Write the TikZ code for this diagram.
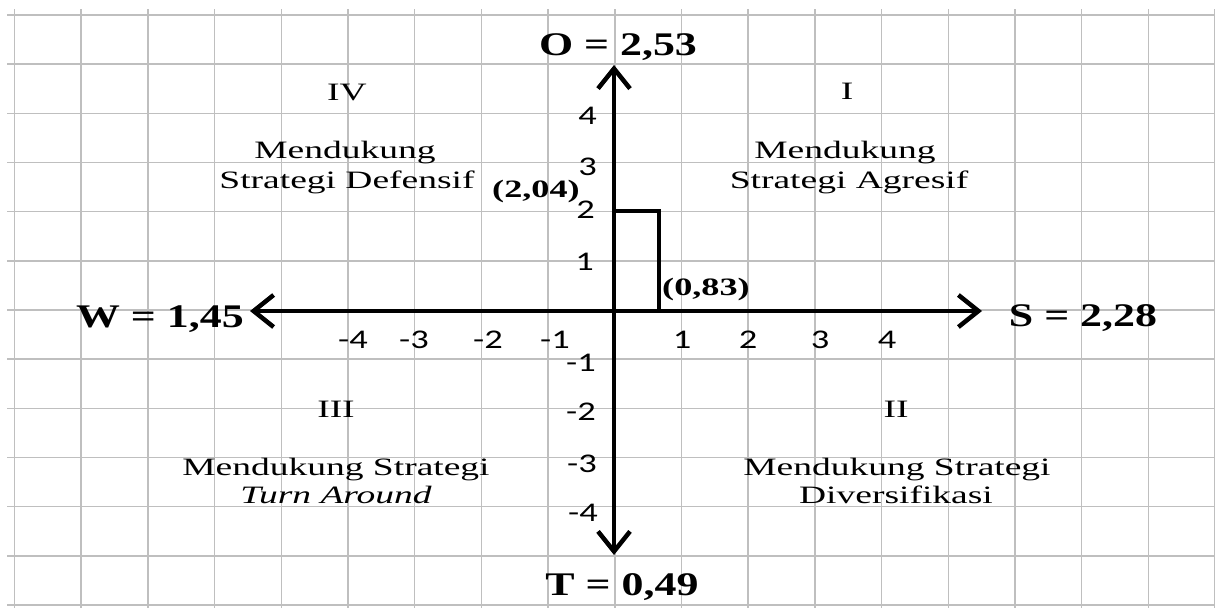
\documentclass[tikz,border=0pt]{standalone}
\usepackage{fontspec}
\usetikzlibrary{arrows.meta}
\newfontfamily\quadfont[FakeStretch=1.5]{Liberation Serif}
\newfontfamily\labfont[FakeStretch=1.33]{Liberation Serif}
\newfontfamily\ptfont[FakeStretch=1.45]{Liberation Serif}
\newfontfamily\tickfont[FakeStretch=1.35]{Carlito}
\begin{document}
\begin{tikzpicture}[x=1pt,y=-1pt,
  gridline/.style={draw=black!25,line width=1.5pt},
  axisline/.style={draw=black,line width=4.5pt,{Straight Barb[length=20pt,width=32pt]}-{Straight Barb[length=20pt,width=32pt]}},
  rectline/.style={draw=black,line width=3.5pt},
  quad/.style={inner sep=0pt,font=\quadfont\fontsize{25}{30}\selectfont,text=black,align=center},
  axlab/.style={inner sep=0pt,font=\labfont\bfseries\fontsize{33}{36}\selectfont,text=black},
  ptlab/.style={inner sep=0pt,font=\ptfont\bfseries\fontsize{25}{30}\selectfont,text=black},
  tick/.style={inner sep=0pt,font=\tickfont\fontsize{27}{30}\selectfont,text=black}]
\useasboundingbox (0,0) rectangle (1215,608);
\fill[white] (0,0) rectangle (1215,608);
% grid
\foreach \i in {0,...,18} \draw[gridline] (14.5+66.7*\i,9) -- (14.5+66.7*\i,608);
\foreach \j in {0,...,12} \draw[gridline] (7,15+49.17*\j) -- (1215,15+49.17*\j);
% axes
\coordinate (org) at (614,311);
\coordinate (Wtip) at (250,311);
\coordinate (Stip) at (982,311);
\coordinate (Otip) at (614,65);
\coordinate (Ttip) at (614,555);
\coordinate (r1) at (614,211);
\coordinate (r2) at (659,211);
\coordinate (r3) at (659,311);
\draw[rectline] (r1) -- (r2) -- (r3);
\draw[axisline] (Wtip) -- (Stip);
\draw[axisline] (Otip) -- (Ttip);
% axis labels
\node[axlab,anchor=base] (Olab) at (618,55) {O = 2,53};
\node[axlab,anchor=base] (Wlab) at (160,327) {W = 1,45};
\node[axlab,anchor=base] (Slab) at (1083,326) {S = 2,28};
\node[axlab,anchor=base] (Tlab) at (622,595) {T = 0,49};
% point labels
\node[ptlab,anchor=base] (p204) at (536,197) {(2,04)};
\node[ptlab,anchor=base] (p083) at (706,295) {(0,83)};
% quadrants
\node[quad,anchor=base] (q4) at (347,100) {IV};
\node[quad,anchor=base] (q1) at (847,99) {I};
\node[quad,anchor=base] (q3) at (336,417) {III};
\node[quad,anchor=base] (q2) at (896,417) {II};
\node[quad,anchor=base] (t4a) at (345,158) {Mendukung};
\node[quad,anchor=base] (t4b) at (347,188) {Strategi Defensif};
\node[quad,anchor=base] (t1a) at (845,158) {Mendukung};
\node[quad,anchor=base] (t1b) at (849,188) {Strategi Agresif};
\node[quad,anchor=base] (t3a) at (336,475) {Mendukung Strategi};
\node[quad,anchor=base] (t3b) at (336,503) {\itshape Turn Around};
\node[quad,anchor=base] (t2a) at (897,475) {Mendukung Strategi};
\node[quad,anchor=base] (t2b) at (896,503) {Diversifikasi};
% x ticks
\node[tick,anchor=base] (xm4) at (353,348) {-4};
\node[tick,anchor=base] (xm3) at (414,348) {-3};
\node[tick,anchor=base] (xm2) at (488,348) {-2};
\node[tick,anchor=base] (xm1) at (555,348) {-1};
\node[tick,anchor=base] (xp1) at (682,348) {1};
\node[tick,anchor=base] (xp2) at (748,348) {2};
\node[tick,anchor=base] (xp3) at (820,348) {3};
\node[tick,anchor=base] (xp4) at (887,348) {4};
% y ticks
\node[tick,anchor=base east] (yp4) at (597,124) {4};
\node[tick,anchor=base east] (yp3) at (597,175) {3};
\node[tick,anchor=base east] (yp2) at (595,218) {2};
\node[tick,anchor=base east] (yp1) at (594,270) {1};
\node[tick,anchor=base east] (ym1) at (596,371) {-1};
\node[tick,anchor=base east] (ym2) at (596,420) {-2};
\node[tick,anchor=base east] (ym3) at (597,472) {-3};
\node[tick,anchor=base east] (ym4) at (598,521) {-4};
\end{tikzpicture}
\end{document}
